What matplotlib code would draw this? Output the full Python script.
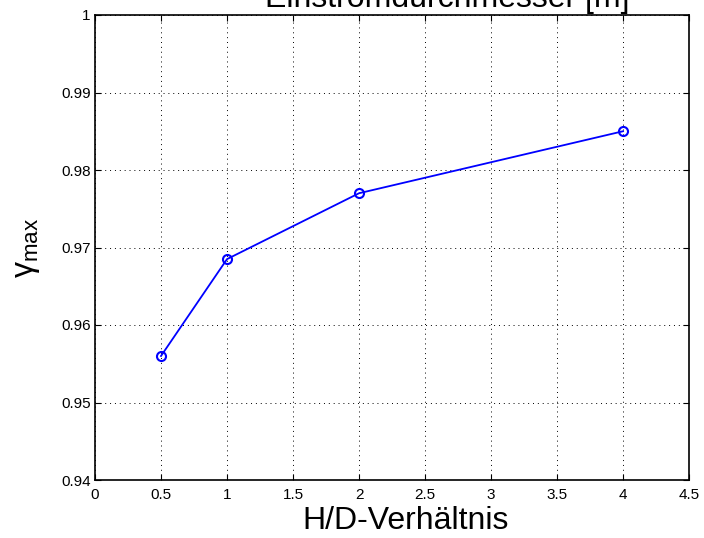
import matplotlib
matplotlib.use("Agg")
import matplotlib.pyplot as plt

hd_ratio = [0.5, 1, 2, 4]
gamma_max = [0.956, 0.9685, 0.977, 0.985]
xticks = [0, 0.5, 1, 1.5, 2, 2.5, 3, 3.5, 4, 4.5]
xtick_labels = ["0", "0.5", "1", "1.5", "2", "2.5", "3", "3.5", "4", "4.5"]
yticks = [0.94, 0.95, 0.96, 0.97, 0.98, 0.99, 1.0]
ytick_labels = ["0.94", "0.95", "0.96", "0.97", "0.98", "0.99", "1"]

plt.rcParams['font.family'] = ['Liberation Sans', 'DejaVu Sans']
plt.rcParams['mathtext.fontset'] = 'custom'
plt.rcParams['mathtext.rm'] = 'Liberation Sans'

fig = plt.figure(figsize=(7.04, 5.38), dpi=100)
ax = fig.add_axes([95/704, 1 - 480/538, (689-95)/704, (480-15)/538])

ax.plot(hd_ratio, gamma_max, color=(0, 0, 1), linewidth=1.3, marker='o',
        markersize=6.5, markerfacecolor='none', markeredgewidth=1.5, markeredgecolor=(0, 0, 1))

ax.set_xlim(0, 4.5)
ax.set_ylim(0.94, 1.0)
ax.set_xticks(xticks)
ax.set_xticklabels(xtick_labels)
ax.set_yticks(yticks)
ax.set_yticklabels(ytick_labels)
ax.tick_params(direction='in', top=True, right=True, labelsize=11, length=4, width=0.8, colors='black')
ax.tick_params(axis='x', pad=6)
ax.tick_params(axis='y', pad=3)
ax.grid(True, linestyle=(0, (1, 4)), color='black', linewidth=0.7)
for s in ax.spines.values():
    s.set_linewidth(1.2)
    s.set_color('black')

ax.set_xlabel("H/D-Verhältnis", fontsize=23)
ax.xaxis.set_label_coords((406 - 95) / (689 - 95), -0.055)
ax.xaxis.label.set_va('top')
ax.set_ylabel("γ$_{\\mathrm{max}}$", fontsize=23, labelpad=14)

fig.text(447/704, 1 - 7/538, "Einströmdurchmesser [m]", ha='center', va='baseline', fontsize=23)

fig.savefig("out.png", dpi=100)
